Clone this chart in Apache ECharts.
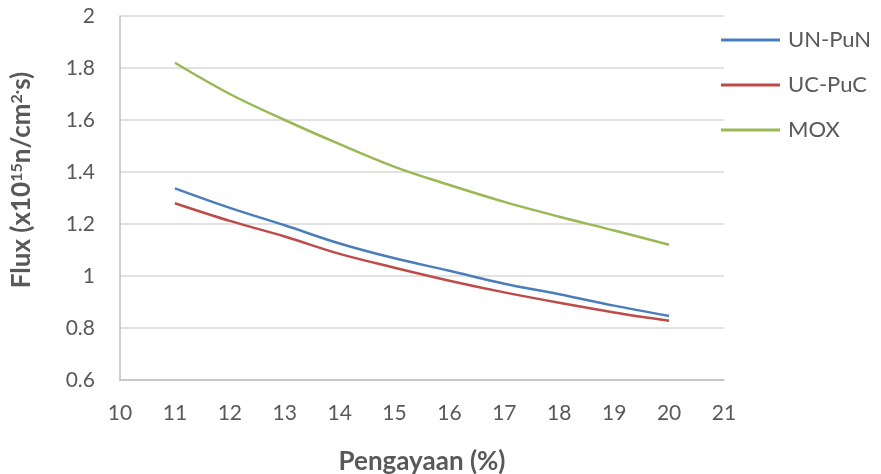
<!DOCTYPE html>
<html>
<head>
<meta charset="utf-8">
<script src="https://cdn.jsdelivr.net/npm/echarts@6/dist/echarts.min.js"></script>
<style>
  html, body { margin: 0; padding: 0; background: #fff; }
  #chart { width: 881px; height: 474px; }
</style>
</head>
<body>
<div id="chart"></div>
<script>
const enrichment = [11, 12, 13, 14, 15, 16, 17, 18, 19, 20]
const unPuN = [1.337, 1.262, 1.195, 1.125, 1.068, 1.02, 0.97, 0.93, 0.886, 0.846]
const ucPuC = [1.28, 1.212, 1.152, 1.085, 1.032, 0.982, 0.937, 0.897, 0.86, 0.828]
const mox = [1.82, 1.7, 1.6, 1.507, 1.42, 1.35, 1.285, 1.228, 1.175, 1.12]

const font = 'Lato, "Open Sans", sans-serif'
const textGrey = '#595959'

const chart = echarts.init(document.getElementById('chart'))

function pairs(values) {
  return enrichment.map((x, i) => [x, values[i]])
}

function lineSeries(name, values, color) {
  return {
    name,
    type: 'line',
    smooth: 0.35,
    symbol: 'none',
    data: pairs(values),
    lineStyle: { color, width: 2.5 },
    itemStyle: { color }
  }
}

chart.setOption({
  backgroundColor: '#fff',
  animation: false,
  grid: { left: 120, right: 157, top: 16, bottom: 94, outerBoundsMode: 'none', containLabel: false },
  legend: {
    orient: 'vertical',
    left: 721,
    top: 29,
    padding: 0,
    icon: 'rect',
    itemWidth: 59,
    itemHeight: 3,
    itemGap: 23,
    textStyle: { color: textGrey, fontSize: 22, fontFamily: font, padding: [0, 0, 0, 3] },
    data: ['UN-PuN', 'UC-PuC', 'MOX']
  },
  xAxis: {
    type: 'value',
    min: 10,
    max: 21,
    interval: 1,
    name: 'Pengayaan (%)',
    nameLocation: 'middle',
    nameGap: 69,
    nameTextStyle: { color: textGrey, fontSize: 26, fontWeight: 'bold', fontFamily: font },
    axisLine: { show: true, lineStyle: { color: '#BFBFBF', width: 1.5 } },
    axisTick: { show: false },
    splitLine: { show: false },
    axisLabel: { color: textGrey, fontSize: 21, fontFamily: font, margin: 23 }
  },
  yAxis: {
    type: 'value',
    min: 0.6,
    max: 2,
    interval: 0.2,
    name: '{b|Flux (x10}{s|15}{b|n/cm}{s|2·}{b|s)}',
    nameLocation: 'middle',
    nameGap: 85,
    nameRotate: 90,
    nameTextStyle: {
      color: textGrey,
      fontFamily: font,
      padding: [0, 0, 0, 36],
      rich: {
        b: { fontSize: 26, fontWeight: 'bold', color: textGrey, fontFamily: font },
        s: { fontSize: 16, fontWeight: 'bold', color: textGrey, fontFamily: font, verticalAlign: 'top', padding: [0, 0, 10, 0] }
      }
    },
    axisLine: { show: true, lineStyle: { color: '#BFBFBF', width: 1.5 } },
    axisTick: { show: false },
    splitLine: { lineStyle: { color: '#D9D9D9', width: 1.5 } },
    axisLabel: {
      color: textGrey,
      fontSize: 21,
      fontFamily: font,
      margin: 25,
      formatter: (v) => String(Math.round(v * 10) / 10)
    }
  },
  series: [
    lineSeries('UN-PuN', unPuN, '#4A7EBB'),
    lineSeries('UC-PuC', ucPuC, '#BE4B48'),
    lineSeries('MOX', mox, '#98B954')
  ]
})
</script>
</body>
</html>
